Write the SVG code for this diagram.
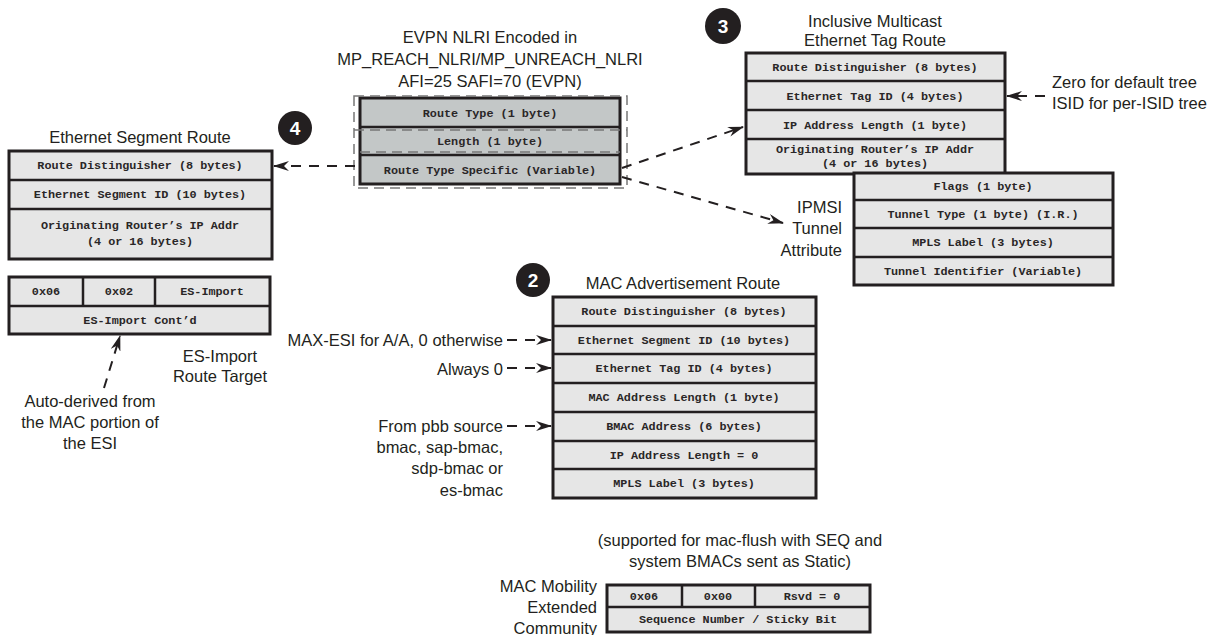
<svg xmlns="http://www.w3.org/2000/svg" width="1222" height="635" viewBox="0 0 1222 635">
<style>
.box{fill:#e6e6e6;stroke:#231f20;stroke-width:3}
.box2{fill:#c3c7c7;stroke:#231f20;stroke-width:3}
.div{stroke:#231f20;stroke-width:2.5;fill:none}
.m{font-family:"Liberation Mono","Courier New",monospace;font-size:11.8px;font-weight:bold;fill:#2a2627;text-anchor:middle}
.s{font-family:"Liberation Sans",Arial,sans-serif;font-size:16.5px;fill:#231f20}
.c{text-anchor:middle}
.r{text-anchor:end}
.num{font-family:"Liberation Sans",Arial,sans-serif;font-size:19px;font-weight:bold;fill:#fff;text-anchor:middle}
.dot{fill:#231f20}
.con{stroke:#231f20;stroke-width:2;fill:none;stroke-dasharray:10 8}
.dsh{stroke:#777;stroke-width:1.5;fill:none;stroke-dasharray:10 6}
</style>
<defs>
<marker id="ah" viewBox="0 0 16 10" refX="15" refY="5" markerWidth="16" markerHeight="10" markerUnits="userSpaceOnUse" orient="auto">
<path d="M0,0 L16,5 L0,10 L5,5 Z" fill="#231f20"/>
</marker>
</defs>
<rect width="1222" height="635" fill="#fff"/>

<g id="evpn-nlri">
<text class="s c" x="490" y="43">EVPN NLRI Encoded in</text>
<text class="s c" x="490" y="65">MP_REACH_NLRI/MP_UNREACH_NLRI</text>
<text class="s c" x="490" y="87">AFI=25 SAFI=70 (EVPN)</text>
<rect class="box2" x="360" y="98" width="260" height="86"/>
<line class="div" x1="360" y1="127" x2="620" y2="127"/>
<line class="div" x1="360" y1="155" x2="620" y2="155"/>
<rect class="dsh" x="354" y="96" width="273" height="92"/>
<line class="dsh" x1="354" y1="130" x2="627" y2="130"/>
<line class="dsh" x1="360" y1="152" x2="620" y2="152"/>
<text class="m" x="490" y="117">Route Type (1 byte)</text>
<text class="m" x="490" y="145">Length (1 byte)</text>
<text class="m" x="490" y="174">Route Type Specific (Variable)</text>
</g>

<g id="es-route">
<circle class="dot" cx="295" cy="128" r="17"/>
<text class="num" x="295" y="135">4</text>
<text class="s c" x="140" y="143">Ethernet Segment Route</text>
<rect class="box" x="9" y="151" width="263" height="108"/>
<line class="div" x1="9" y1="180" x2="272" y2="180"/>
<line class="div" x1="9" y1="209" x2="272" y2="209"/>
<text class="m" x="140" y="169">Route Distinguisher (8 bytes)</text>
<text class="m" x="140" y="198">Ethernet Segment ID (10 bytes)</text>
<text class="m" x="140" y="229">Originating Router’s IP Addr</text>
<text class="m" x="140" y="245">(4 or 16 bytes)</text>
</g>

<g id="es-import-rt">
<rect class="box" x="9" y="277" width="261" height="57"/>
<line class="div" x1="9" y1="306" x2="270" y2="306"/>
<line class="div" x1="83" y1="277" x2="83" y2="306"/>
<line class="div" x1="155" y1="277" x2="155" y2="306"/>
<text class="m" x="46" y="295">0x06</text>
<text class="m" x="119" y="295">0x02</text>
<text class="m" x="212" y="295">ES-Import</text>
<text class="m" x="140" y="324">ES-Import Cont’d</text>
<text class="s c" x="220" y="362">ES-Import</text>
<text class="s c" x="220" y="382">Route Target</text>
</g>

<g id="auto-derived-note">
<text class="s c" x="90" y="407">Auto-derived from</text>
<text class="s c" x="90" y="428">the MAC portion of</text>
<text class="s c" x="90" y="449">the ESI</text>
</g>

<g id="imet-route">
<circle class="dot" cx="723" cy="26" r="18"/>
<text class="num" x="723" y="33">3</text>
<text class="s c" x="875" y="27">Inclusive Multicast</text>
<text class="s c" x="875" y="46">Ethernet Tag Route</text>
<rect class="box" x="746" y="53" width="259" height="121"/>
<line class="div" x1="746" y1="81" x2="1005" y2="81"/>
<line class="div" x1="746" y1="110" x2="1005" y2="110"/>
<line class="div" x1="746" y1="139" x2="1005" y2="139"/>
<text class="m" x="875" y="71">Route Distinguisher (8 bytes)</text>
<text class="m" x="875" y="100">Ethernet Tag ID (4 bytes)</text>
<text class="m" x="875" y="129">IP Address Length (1 byte)</text>
<text class="m" x="875" y="153">Originating Router’s IP Addr</text>
<text class="m" x="875" y="167">(4 or 16 bytes)</text>
</g>

<g id="tag-note">
<text class="s" x="1052" y="88">Zero for default tree</text>
<text class="s" x="1052" y="109">ISID for per-ISID tree</text>
</g>

<g id="ipmsi-attr">
<rect class="box" x="854" y="173" width="259" height="112"/>
<line class="div" x1="854" y1="200" x2="1113" y2="200"/>
<line class="div" x1="854" y1="228" x2="1113" y2="228"/>
<line class="div" x1="854" y1="257" x2="1113" y2="257"/>
<text class="m" x="983" y="190">Flags (1 byte)</text>
<text class="m" x="983" y="218">Tunnel Type (1 byte) (I.R.)</text>
<text class="m" x="983" y="246">MPLS Label (3 bytes)</text>
<text class="m" x="983" y="275">Tunnel Identifier (Variable)</text>
<text class="s r" x="842" y="213">IPMSI</text>
<text class="s r" x="842" y="234">Tunnel</text>
<text class="s r" x="842" y="256">Attribute</text>
</g>

<g id="mac-adv-route">
<circle class="dot" cx="533" cy="280" r="17"/>
<text class="num" x="533" y="287">2</text>
<text class="s c" x="683" y="289">MAC Advertisement Route</text>
<rect class="box" x="553" y="297" width="263" height="201"/>
<line class="div" x1="553" y1="326" x2="816" y2="326"/>
<line class="div" x1="553" y1="354" x2="816" y2="354"/>
<line class="div" x1="553" y1="383" x2="816" y2="383"/>
<line class="div" x1="553" y1="412" x2="816" y2="412"/>
<line class="div" x1="553" y1="441" x2="816" y2="441"/>
<line class="div" x1="553" y1="469" x2="816" y2="469"/>
<text class="m" x="684" y="315">Route Distinguisher (8 bytes)</text>
<text class="m" x="684" y="344">Ethernet Segment ID (10 bytes)</text>
<text class="m" x="684" y="372">Ethernet Tag ID (4 bytes)</text>
<text class="m" x="684" y="401">MAC Address Length (1 byte)</text>
<text class="m" x="684" y="430">BMAC Address (6 bytes)</text>
<text class="m" x="684" y="459">IP Address Length = 0</text>
<text class="m" x="684" y="487">MPLS Label (3 bytes)</text>
</g>

<g id="mac-adv-notes">
<text class="s r" x="503" y="346">MAX-ESI for A/A, 0 otherwise</text>
<text class="s r" x="503" y="375">Always 0</text>
<text class="s r" x="503" y="432">From pbb source</text>
<text class="s r" x="503" y="453">bmac, sap-bmac,</text>
<text class="s r" x="503" y="474">sdp-bmac or</text>
<text class="s r" x="503" y="496">es-bmac</text>
</g>

<g id="mac-mobility">
<text class="s c" x="740" y="546">(supported for mac-flush with SEQ and</text>
<text class="s c" x="740" y="567">system BMACs sent as Static)</text>
<text class="s r" x="597" y="592">MAC Mobility</text>
<text class="s r" x="597" y="613">Extended</text>
<text class="s r" x="597" y="634">Community</text>
<rect class="box" x="607" y="585" width="263" height="47"/>
<line class="div" x1="607" y1="607" x2="870" y2="607"/>
<line class="div" x1="682" y1="585" x2="682" y2="607"/>
<line class="div" x1="755" y1="585" x2="755" y2="607"/>
<text class="m" x="644" y="600">0x06</text>
<text class="m" x="718" y="600">0x00</text>
<text class="m" x="812" y="600">Rsvd = 0</text>
<text class="m" x="738" y="623">Sequence Number / Sticky Bit</text>
</g>

<g id="connectors">
<line class="con" x1="355" y1="166" x2="274" y2="166" marker-end="url(#ah)"/>
<line class="con" x1="622" y1="168" x2="743" y2="127" marker-end="url(#ah)"/>
<line class="con" x1="622" y1="177" x2="783" y2="223" marker-end="url(#ah)"/>
<line class="con" x1="1045" y1="96" x2="1007" y2="96" marker-end="url(#ah)"/>
<line class="con" x1="104" y1="388" x2="120" y2="336" marker-end="url(#ah)"/>
<line class="con" x1="507" y1="340" x2="551" y2="340" marker-end="url(#ah)"/>
<line class="con" x1="507" y1="368" x2="551" y2="368" marker-end="url(#ah)"/>
<line class="con" x1="507" y1="426" x2="551" y2="426" marker-end="url(#ah)"/>
</g>
</svg>
